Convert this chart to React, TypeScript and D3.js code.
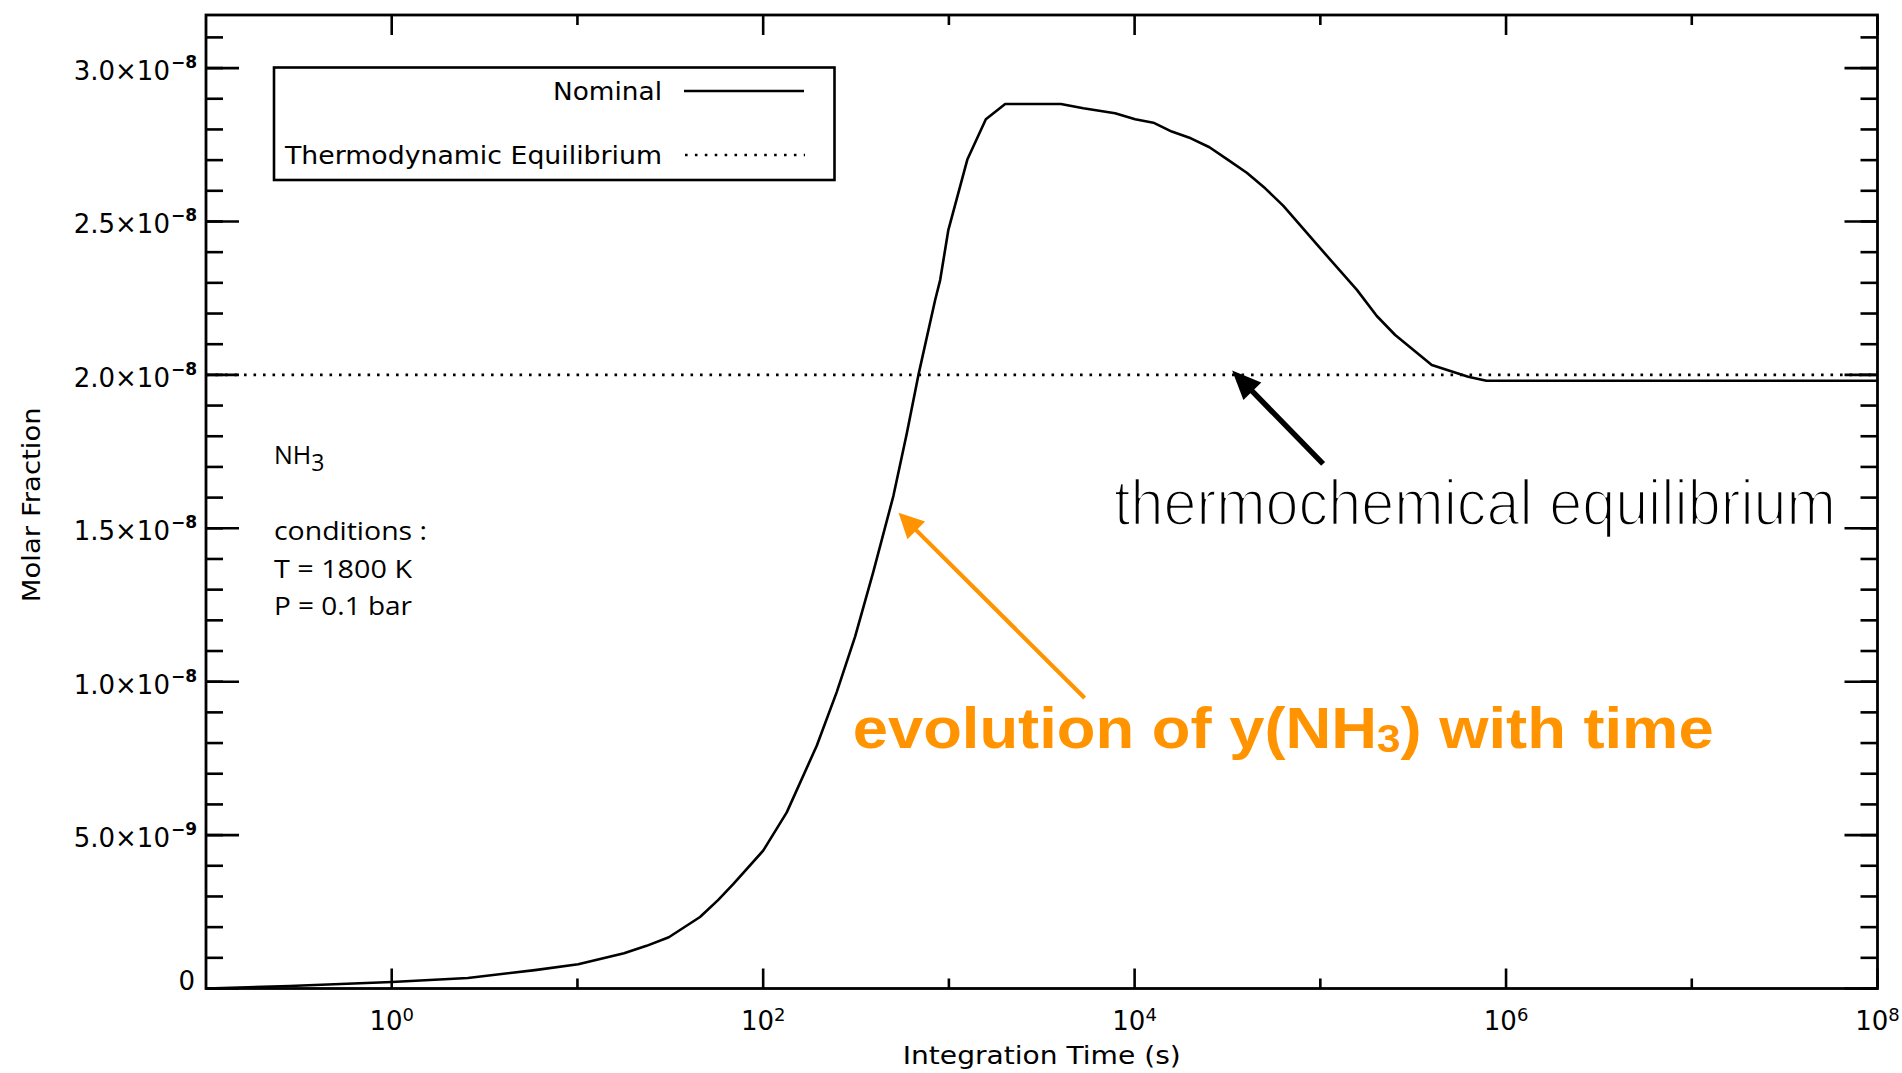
import React from "react";
import * as d3 from "d3";

// ---- data ----
const logTime = [
  -1.0, -0.55, 0.0, 0.41, 0.771, 1.004, 1.251, 1.372, 1.492, 1.66, 1.757, 1.84,
  2.001, 2.127, 2.289, 2.396, 2.495, 2.593, 2.701, 2.773, 2.836, 2.926, 2.953,
  2.997, 3.1, 3.199, 3.303, 3.603, 3.724, 3.895, 4.003, 4.101, 4.2, 4.303, 4.403,
  4.505, 4.604, 4.703, 4.801, 4.999, 5.197, 5.304, 5.403, 5.6, 5.796, 5.894, 8.0,
];
const nominal = [
  0.0, 0.008, 0.021, 0.034, 0.06, 0.079, 0.115, 0.139, 0.167, 0.233, 0.288, 0.341,
  0.45, 0.574, 0.792, 0.966, 1.147, 1.358, 1.605, 1.808, 2.0, 2.244, 2.309,
  2.472, 2.703, 2.833, 2.883, 2.883, 2.869, 2.853, 2.833, 2.822, 2.793, 2.771, 2.742,
  2.7, 2.659, 2.608, 2.551, 2.413, 2.277, 2.192, 2.13, 2.032, 1.994, 1.981, 1.981,
].map((v) => v * 1e-8);
const equilibrium = 2.0e-8;

const xDomain = [0.1, 1e8];
const yDomain = [0, 3.173e-8];
const xMajorExp = [0, 2, 4, 6, 8];
const xMinorExp = [1, 3, 5, 7];
const yMajorValues = [0, 5e-9, 1e-8, 1.5e-8, 2e-8, 2.5e-8, 3e-8];
const yMajorMantissa = ["0", "5.0×10", "1.0×10", "1.5×10", "2.0×10", "2.5×10", "3.0×10"];
const yMajorExp = ["", "−9", "−8", "−8", "−8", "−8", "−8"];
const yMinorValues = d3.range(0, 32).map((i) => i * 1e-9);

const legendLabels = ["Nominal", "Thermodynamic Equilibrium"];
const infoLines = ["conditions :", "T = 1800 K", "P = 0.1 bar"];

// annotations in data coordinates (log10 time, value)
const blackArrow = { tail: [5.015, 1.71e-8], tip: [4.525, 2.014e-8] };
const orangeArrow = { tail: [3.731, 0.947e-8], tip: [2.729, 1.551e-8] };
const blackText = { at: [3.889, 1.512e-8], text: "thermochemical equilibrium" };
const orangeText = { at: [2.482, 0.783e-8] };

const ORANGE = "#FF9300";
const IDL = "'DejaVu Sans', sans-serif";

function arrowParts(x1: number, y1: number, x2: number, y2: number, L: number, Wd: number) {
  const dx = x2 - x1, dy = y2 - y1;
  const len = Math.hypot(dx, dy);
  const ux = dx / len, uy = dy / len;
  const bx = x2 - ux * L, by = y2 - uy * L;
  const px = -uy, py = ux;
  const head = `${x2},${y2} ${bx + px * Wd / 2},${by + py * Wd / 2} ${bx - px * Wd / 2},${by - py * Wd / 2}`;
  return { line: [x1, y1, bx + ux * 2, by + uy * 2], head };
}

export default function App() {
  const W = 1902, H = 1073;
  const left = 206, right = 1877.5, top = 15, bottom = 988.5;
  const x = d3.scaleLog().domain(xDomain).range([left, right]);
  const y = d3.scaleLinear().domain(yDomain).range([bottom, top]);

  const pts = logTime.map((lt, i) => [Math.pow(10, lt), nominal[i]] as [number, number]);
  const line = d3.line<[number, number]>().x((d) => x(d[0])).y((d) => y(d[1])).curve(d3.curveLinear);

  const ba = arrowParts(
    x(Math.pow(10, blackArrow.tail[0])), y(blackArrow.tail[1]),
    x(Math.pow(10, blackArrow.tip[0])), y(blackArrow.tip[1]), 29, 25
  );
  const oa = arrowParts(
    x(Math.pow(10, orangeArrow.tail[0])), y(orangeArrow.tail[1]),
    x(Math.pow(10, orangeArrow.tip[0])), y(orangeArrow.tip[1]), 25, 25
  );

  return (
    <svg width={W} height={H} style={{ position: "absolute", left: 0, top: 0, background: "#fff" }}>
      <rect x={0} y={0} width={W} height={H} fill="#fff" />
      {/* equilibrium dotted line */}
      <line x1={x(xDomain[0])} x2={x(xDomain[1])} y1={y(equilibrium)} y2={y(equilibrium)}
        stroke="#000" strokeWidth={2.6} strokeDasharray="2.6 6.9" />
      {/* nominal curve */}
      <path d={line(pts) || ""} fill="none" stroke="#000" strokeWidth={2.6} strokeLinejoin="round" />

      {/* frame */}
      <rect x={left} y={top} width={right - left} height={bottom - top} fill="none" stroke="#000" strokeWidth={2.8} />

      {/* y ticks */}
      {yMinorValues.filter((v) => v <= yDomain[1]).map((v, i) => (
        <g key={"ym" + i}>
          <line x1={left} x2={left + 17} y1={y(v)} y2={y(v)} stroke="#000" strokeWidth={2.6} />
          <line x1={right} x2={right - 17} y1={y(v)} y2={y(v)} stroke="#000" strokeWidth={2.6} />
        </g>
      ))}
      {yMajorValues.map((v, i) => (
        <g key={"yM" + i}>
          <line x1={left} x2={left + 33} y1={y(v)} y2={y(v)} stroke="#000" strokeWidth={2.6} />
          <line x1={right} x2={right - 33} y1={y(v)} y2={y(v)} stroke="#000" strokeWidth={2.6} />
          {yMajorExp[i] === "" ? (
            <text x={195} y={y(v) + 1.5} textAnchor="end" fontFamily={IDL} fontSize={26} fill="#000">
              {yMajorMantissa[i]}
            </text>
          ) : (
            <text x={197} y={y(v) + 12} textAnchor="end" fontFamily={IDL} fontSize={26} fill="#000">
              <tspan>{yMajorMantissa[i]}</tspan>
              <tspan dx={1} dy={-12} fontSize={17} fontWeight="bold">{yMajorExp[i]}</tspan>
            </text>
          )}
        </g>
      ))}

      {/* x ticks */}
      {xMinorExp.map((e) => (
        <g key={"xm" + e}>
          <line x1={x(Math.pow(10, e))} x2={x(Math.pow(10, e))} y1={bottom} y2={bottom - 10} stroke="#000" strokeWidth={2.6} />
          <line x1={x(Math.pow(10, e))} x2={x(Math.pow(10, e))} y1={top} y2={top + 10} stroke="#000" strokeWidth={2.6} />
        </g>
      ))}
      {xMajorExp.map((e) => (
        <g key={"xM" + e}>
          <line x1={x(Math.pow(10, e))} x2={x(Math.pow(10, e))} y1={bottom} y2={bottom - 20} stroke="#000" strokeWidth={2.6} />
          <line x1={x(Math.pow(10, e))} x2={x(Math.pow(10, e))} y1={top} y2={top + 20} stroke="#000" strokeWidth={2.6} />
          <text x={x(Math.pow(10, e))} y={1030} textAnchor="middle" fontFamily={IDL} fontSize={26} fill="#000">
            <tspan>10</tspan>
            <tspan dy={-9} fontSize={18}>{String(e)}</tspan>
          </text>
        </g>
      ))}

      {/* axis titles */}
      <text x={(left + right) / 2} y={1064} textAnchor="middle" fontFamily={IDL} fontSize={25}
        textLength={278} lengthAdjust="spacingAndGlyphs" fill="#000">Integration Time (s)</text>
      <text transform={`translate(40, ${(top + bottom) / 2 + 3}) rotate(-90)`} textAnchor="middle"
        fontFamily={IDL} fontSize={25} textLength={195} lengthAdjust="spacingAndGlyphs" fill="#000">Molar Fraction</text>

      {/* legend */}
      <rect x={274} y={67.5} width={560.5} height={112.5} fill="#fff" stroke="#000" strokeWidth={2.6} />
      <text x={662} y={99.5} textAnchor="end" fontFamily={IDL} fontSize={25} textLength={109}
        lengthAdjust="spacingAndGlyphs" fill="#000">{legendLabels[0]}</text>
      <line x1={684} x2={804} y1={91} y2={91} stroke="#000" strokeWidth={2.6} />
      <text x={662} y={164.3} textAnchor="end" fontFamily={IDL} fontSize={25} textLength={377}
        lengthAdjust="spacingAndGlyphs" fill="#000">{legendLabels[1]}</text>
      <line x1={685} x2={805} y1={155} y2={155} stroke="#000" strokeWidth={2.6} strokeDasharray="2.6 7.3" />

      {/* species / conditions */}
      <text x={274} y={463.5} fontFamily="'Open Sans', sans-serif" fontSize={25} fill="#000">
        <tspan>NH</tspan>
        <tspan dy={7} fontSize={23}>3</tspan>
      </text>
      {infoLines.map((s, i) => (
        <text key={s} x={274} y={540 + i * 37.5} fontFamily="'Open Sans', sans-serif" fontSize={25}
          textLength={i === 0 ? 153 : 138} lengthAdjust="spacingAndGlyphs" fill="#000">{s}</text>
      ))}

      {/* annotations */}
      <line x1={ba.line[0]} y1={ba.line[1]} x2={ba.line[2]} y2={ba.line[3]} stroke="#000" strokeWidth={5.5} />
      <polygon points={ba.head} fill="#000" />
      <text x={x(Math.pow(10, blackText.at[0]))} y={y(blackText.at[1])} fontFamily="'Liberation Sans', Arial, sans-serif"
        fontSize={64} textLength={722} lengthAdjust="spacingAndGlyphs" fill="#000"
        stroke="#fff" strokeWidth={2.4} strokeLinejoin="round">{blackText.text}</text>

      <line x1={oa.line[0]} y1={oa.line[1]} x2={oa.line[2]} y2={oa.line[3]} stroke={ORANGE} strokeWidth={4.2} />
      <polygon points={oa.head} fill={ORANGE} />
      <text x={x(Math.pow(10, orangeText.at[0]))} y={y(orangeText.at[1])} fontFamily="'Liberation Sans', Arial, sans-serif"
        fontWeight="bold" fontSize={57} textLength={861} lengthAdjust="spacingAndGlyphs" fill={ORANGE}>
        <tspan>evolution of y(NH</tspan>
        <tspan dy={4} fontSize={38}>3</tspan>
        <tspan dy={-4}>) with time</tspan>
      </text>
    </svg>
  );
}
